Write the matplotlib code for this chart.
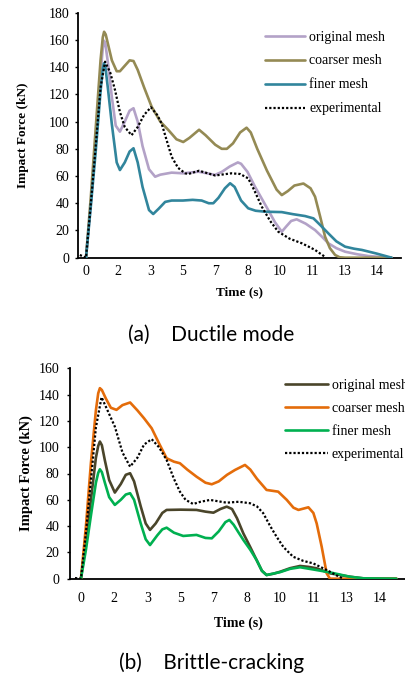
import matplotlib
matplotlib.use("Agg")
import matplotlib.pyplot as plt

# ---------------- data ----------------
tick_labels = ["0", "2", "3", "5", "7", "8", "10", "11", "13", "14"]
series_names = ["original mesh", "coarser mesh", "finer mesh", "experimental"]

# Panel (a) Ductile mode  (x in category-tick units, y in kN)
orig_a_x = [0, 0.15, 0.3, 0.45, 0.52, 0.557, 0.6, 0.68, 0.8, 0.92, 1.05, 1.2, 1.35, 1.47, 1.6, 1.75, 1.95, 2.14, 2.3, 2.65, 3.0, 3.48, 3.75, 3.99, 4.2, 4.45, 4.7, 4.8, 5.0, 5.23, 5.45, 5.64, 5.85, 6.06, 6.2, 6.35, 6.52, 6.8, 7.09, 7.3, 7.5, 7.75, 8.02, 8.4, 8.74, 9.46]
orig_a_y = [0, 40, 85, 135, 154, 159.4, 157, 143, 118, 97, 92.6, 100, 108, 109.8, 100, 82, 65, 59.5, 61, 62.5, 62, 63.2, 62, 60.8, 63, 67, 70, 69, 63, 52.2, 43, 35, 26, 19.1, 23, 27, 28.2, 25, 20.3, 15.5, 10.6, 7, 4.4, 2.5, 1.2, 0]

coarse_a_x = [0, 0.15, 0.3, 0.45, 0.52, 0.56, 0.61, 0.7, 0.8, 0.95, 1.05, 1.2, 1.35, 1.47, 1.6, 1.8, 2.03, 2.3, 2.55, 2.8, 3.01, 3.2, 3.5, 3.7, 4.0, 4.2, 4.36, 4.55, 4.77, 4.97, 5.1, 5.3, 5.6, 5.9, 6.06, 6.25, 6.45, 6.73, 6.95, 7.09, 7.25, 7.4, 7.55, 7.71, 7.85, 8.02, 9.46]
coarse_a_y = [0, 45, 95, 145, 162, 166, 164, 155, 145, 137, 137, 141, 145, 144.5, 138, 125, 111, 100, 93.8, 87, 85, 88, 94, 90, 83, 80, 80, 84, 92, 95.5, 92, 80, 64, 50, 46, 49, 53, 54.5, 51, 44.8, 30, 15.4, 7, 2, 0.3, 0, 0]

fine_a_x = [0, 0.15, 0.3, 0.45, 0.52, 0.557, 0.6, 0.68, 0.8, 0.95, 1.05, 1.2, 1.35, 1.47, 1.6, 1.75, 1.95, 2.08, 2.25, 2.45, 2.65, 3.0, 3.3, 3.58, 3.8, 3.94, 4.1, 4.3, 4.46, 4.6, 4.8, 5.02, 5.25, 5.54, 6.06, 6.4, 6.78, 7.04, 7.25, 7.5, 7.75, 8.02, 8.3, 8.54, 9.0, 9.46]
fine_a_y = [0, 38, 78, 122, 139, 142.8, 140, 124, 98, 70, 64.4, 70, 78, 80.4, 70, 52, 35, 32.1, 36, 41, 42, 42, 42.5, 42, 40, 40, 44, 51, 54.7, 52, 42, 36.3, 34.5, 33.8, 33.5, 32, 30.6, 28.9, 24, 17.9, 12, 8.1, 6.6, 5.7, 3, 0]

exp_a_x = [-0.19, 0, 0.15, 0.3, 0.45, 0.59, 0.75, 0.9, 1.05, 1.2, 1.41, 1.6, 1.8, 2.01, 2.2, 2.34, 2.5, 2.65, 2.85, 3.07, 3.17, 3.5, 4.0, 4.5, 4.77, 5.02, 5.2, 5.44, 5.7, 5.95, 6.3, 6.68, 6.9, 7.09, 7.25, 7.42]
exp_a_y = [2, 0, 40, 82, 125, 144, 136, 123, 107, 96, 90, 96, 105, 110.5, 105, 98.7, 86, 74.2, 66, 62, 61.5, 63.9, 60.4, 62, 61.5, 58.3, 50, 37.5, 27, 19.1, 14, 10.6, 8, 5.7, 3, 0.3]

# Panel (b) Brittle-cracking
orig_b_x = [0, 0.15, 0.3, 0.45, 0.52, 0.57, 0.63, 0.72, 0.85, 1.02, 1.2, 1.35, 1.48, 1.6, 1.8, 1.95, 2.08, 2.25, 2.45, 2.58, 3.0, 3.48, 3.75, 3.99, 4.2, 4.39, 4.55, 4.7, 4.89, 5.1, 5.29, 5.45, 5.59, 5.8, 6.0, 6.3, 6.6, 6.85, 7.1, 7.5, 8.1, 8.5, 9.5]
orig_b_y = [0, 28, 60, 92, 101, 104.3, 101.5, 90, 75, 65.5, 72, 79, 80.2, 74, 55, 42, 37.1, 42, 50, 52.3, 52.5, 52.3, 51, 50.2, 53, 54.8, 53, 46, 34.5, 24, 14.2, 6, 2.8, 3.8, 5.3, 8, 9.7, 9, 7.9, 4.1, 1.5, 0.3, 0]

coarse_b_x = [0, 0.15, 0.3, 0.45, 0.52, 0.57, 0.63, 0.75, 0.9, 1.07, 1.25, 1.48, 1.7, 1.9, 2.13, 2.35, 2.58, 2.8, 2.98, 3.2, 3.48, 3.75, 3.94, 4.15, 4.4, 4.64, 4.94, 5.1, 5.3, 5.59, 5.94, 6.2, 6.4, 6.55, 6.85, 7.0, 7.1, 7.25, 7.4, 7.5, 9.5]
coarse_b_y = [0, 40, 88, 128, 141, 144.9, 143.5, 137, 130, 128.4, 132, 134, 128, 122, 114.4, 103, 91.6, 89, 87.8, 83, 77.6, 73, 71.8, 74, 79, 82.7, 86.5, 83, 76, 67.5, 66.2, 59.9, 54, 52.3, 54.3, 50, 42, 24.4, 4.1, 0, 0]

fine_b_x = [0, 0.15, 0.3, 0.45, 0.52, 0.57, 0.63, 0.72, 0.85, 1.02, 1.2, 1.35, 1.48, 1.6, 1.8, 1.95, 2.08, 2.3, 2.45, 2.58, 2.8, 3.08, 3.48, 3.75, 3.94, 4.15, 4.35, 4.47, 4.6, 4.75, 4.89, 5.1, 5.29, 5.45, 5.59, 6.0, 6.3, 6.6, 7.0, 7.5, 8.1, 8.5, 9.5]
fine_b_y = [0, 22, 48, 73, 80.5, 83.2, 81, 73, 62, 56.1, 60, 64, 65, 60, 42, 30, 25.6, 33, 37.5, 38.8, 35, 32.5, 33.3, 31, 30.7, 36, 43, 44.7, 41, 35, 29.5, 22, 14.2, 6, 2.8, 5, 7.5, 8.7, 7, 4.8, 1.5, 0.3, 0]

exp_b_x = [-0.18, 0, 0.15, 0.3, 0.45, 0.62, 0.8, 1.02, 1.25, 1.48, 1.7, 1.9, 2.13, 2.35, 2.58, 2.8, 2.98, 3.15, 3.38, 3.6, 3.89, 4.39, 4.75, 5.09, 5.3, 5.49, 5.7, 5.89, 6.1, 6.39, 6.7, 6.99, 7.25, 7.5, 7.7, 7.9]
exp_b_y = [0.5, 0, 35, 75, 115, 138, 128, 115.7, 96, 85.2, 92, 102, 106.1, 100, 90.3, 76, 66.2, 60, 56.8, 58.5, 59.9, 57.8, 58.5, 57.4, 55, 49.8, 40, 32, 24, 16.7, 13.5, 11.7, 8.5, 5.3, 2.5, 0]

colors_a = ["#B3A2C7", "#948A54", "#31859C", "black"]
colors_b = ["#4A452A", "#E46C0A", "#00B050", "black"]

serif = ["Liberation Serif", "DejaVu Serif"]
W, H = 406, 686
fig = plt.figure(figsize=(W / 100, H / 100), dpi=100)


def px_axes(l, t, r, b):
    return fig.add_axes([l / W, 1 - b / H, (r - l) / W, (b - t) / H])


def style(ax, ymax, tick_pad_x, tick_pad_y, fs):
    for s in ["top", "right"]:
        ax.spines[s].set_visible(False)
    for s in ["left", "bottom"]:
        ax.spines[s].set_linewidth(1.3)
        ax.spines[s].set_color("black")
    ax.set_ylim(0, ymax)
    ax.set_yticks(range(0, ymax + 1, 20))
    ax.set_xticks(range(len(tick_labels)))
    ax.set_xticklabels(tick_labels)
    ax.tick_params(axis="x", length=0, pad=tick_pad_x)
    ax.tick_params(axis="y", length=2.5, width=1.0, pad=tick_pad_y, direction="out")
    for lab in ax.get_xticklabels() + ax.get_yticklabels():
        lab.set_fontfamily(serif)
        lab.set_fontsize(fs)


def draw(ax, xs, ys, colors):
    handles = []
    for i, (x, y, c) in enumerate(zip(xs, ys, colors)):
        if i == 3:
            h, = ax.plot(x, y, color=c, lw=1.6, linestyle=(0, (1, 0.9)),
                         dash_capstyle="butt", zorder=5)
        else:
            h, = ax.plot(x, y, color=c, lw=1.9, solid_joinstyle="round",
                         solid_capstyle="round", zorder=3 + i * 0.1)
        handles.append(h)
    return handles


# ---- panel a ----
axa = px_axes(77.7, 12.7, 401, 257.7)
ha = draw(axa, [orig_a_x, coarse_a_x, fine_a_x, exp_a_x],
          [orig_a_y, coarse_a_y, fine_a_y, exp_a_y], colors_a)
axa.set_xlim(-0.257, 9.75)
style(axa, 180, 5.5, 3.5, 10)
axa.set_xlabel("Time (s)", fontfamily=serif, fontweight="bold", fontsize=9.5)
axa.set_ylabel("Impact Force (kN)", fontfamily=serif, fontweight="bold", fontsize=9.5)
axa.xaxis.set_label_coords(0.499, -0.115)
axa.yaxis.set_label_coords(-0.152, 0.5)
axa.legend(ha, series_names, loc="upper left", frameon=False,
           bbox_to_anchor=(265 / W, 1 - 30.5 / H), bbox_transform=fig.transFigure,
           borderpad=0, borderaxespad=0, handlelength=2.9, handletextpad=0.3,
           labelspacing=0.79, prop={"family": serif, "size": 10})

# ---- panel b ----
axb = px_axes(70, 368.3, 405, 578.7)
hb = draw(axb, [orig_b_x, coarse_b_x, fine_b_x, exp_b_x],
          [orig_b_y, coarse_b_y, fine_b_y, exp_b_y], colors_b)
axb.set_xlim(-0.33, 9.76)
style(axb, 160, 9.5, 5, 10)
axb.set_xlabel("Time (s)", fontfamily=serif, fontweight="bold", fontsize=10)
axb.set_ylabel("Impact Force (kN)", fontfamily=serif, fontweight="bold", fontsize=10.5)
axb.xaxis.set_label_coords(0.504, -0.18)
axb.yaxis.set_label_coords(-0.111, 0.5)
axb.legend(hb, series_names, loc="upper left", frameon=False,
           bbox_to_anchor=(285 / W, 1 - 379 / H), bbox_transform=fig.transFigure,
           borderpad=0, borderaxespad=0, handlelength=3.1, handletextpad=0.28,
           labelspacing=0.72, prop={"family": serif, "size": 10})

# ---- captions ----
cap = ["Lato", "DejaVu Sans"]
fig.text(211.5 / W, 1 - 335 / H, "(a)    Ductile mode", ha="center", va="center",
         fontfamily=cap, fontsize=15)
fig.text(211.5 / W, 1 - 663 / H, "(b)    Brittle-cracking", ha="center", va="center",
         fontfamily=cap, fontsize=15)

fig.savefig("out.png", dpi=100)
